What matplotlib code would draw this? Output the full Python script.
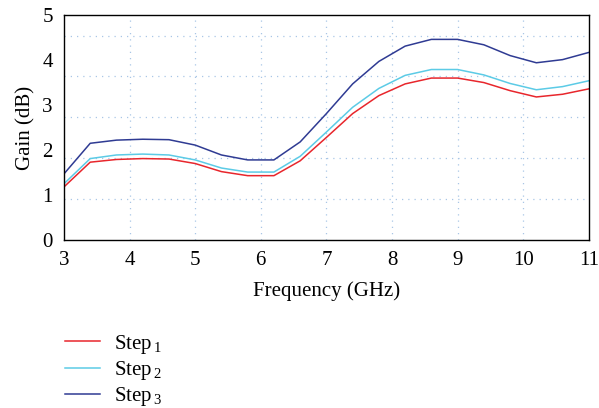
import numpy as np
import matplotlib
matplotlib.use("Agg")
import matplotlib.pyplot as plt

plt.rcParams["font.family"] = ["Liberation Serif", "DejaVu Serif"]
plt.rcParams["mathtext.fontset"] = "custom"
plt.rcParams["mathtext.rm"] = "Liberation Serif"

# Frequenzpunkte in GHz
freq = [3.0, 3.4, 3.8, 4.2, 4.6, 5.0, 5.4, 5.8, 6.2, 6.6, 7.0,
        7.4, 7.8, 8.2, 8.6, 9.0, 9.4, 9.8, 10.2, 10.6, 11.0]

gain_step1 = [1.18, 1.73, 1.79, 1.81, 1.80, 1.70, 1.52, 1.43, 1.43, 1.76, 2.28,
              2.81, 3.21, 3.47, 3.60, 3.60, 3.50, 3.32, 3.18, 3.24, 3.36]
gain_step2 = [1.25, 1.81, 1.89, 1.91, 1.89, 1.78, 1.60, 1.51, 1.51, 1.86, 2.40,
              2.95, 3.37, 3.66, 3.79, 3.79, 3.67, 3.48, 3.34, 3.41, 3.54]
gain_step3 = [1.47, 2.15, 2.22, 2.24, 2.23, 2.11, 1.89, 1.78, 1.78, 2.18, 2.81,
              3.47, 3.97, 4.31, 4.46, 4.46, 4.34, 4.10, 3.94, 4.01, 4.17]

labels = ["Step$_{\\,\\mathregular{1}}$", "Step$_{\\,\\mathregular{2}}$", "Step$_{\\,\\mathregular{3}}$"]
colors = ["#e8262c", "#5ccbe6", "#2f3b93"]

fs = 15

fig = plt.figure(figsize=(5.99, 4.08), dpi=100)
ax = fig.add_axes([0.1068, 0.4118, 0.8762, 0.5512])

for g, lab, c in zip([gain_step1, gain_step2, gain_step3], labels, colors):
    ax.plot(freq, g, color=c, lw=1.1, label=lab)

ax.set_xlim(3, 11)
ax.set_ylim(0, 5)
ax.set_xticks(range(3, 12))
ax.set_yticks(range(0, 6))
ax.tick_params(length=0, labelsize=fs)
ax.tick_params(axis="y", pad=8)
ax.tick_params(axis="x", pad=8)

# Gitter (gepunktet)
for x in range(4, 11):
    ax.axvline(x, color="#a9c6e6", lw=0.9, ls=(0, (1, 4)), zorder=0)
for y in np.arange(1, 6) * 10 / 11:
    ax.axhline(y, color="#a9c6e6", lw=0.9, ls=(0, (1, 4)), zorder=0)

for s in ax.spines.values():
    s.set_linewidth(1.0)

ax.set_xlabel("Frequency (GHz)", fontsize=fs, labelpad=8)
ax.set_ylabel("Gain (dB)", fontsize=fs, labelpad=5)

fig.legend(loc="upper left", bbox_to_anchor=(0.095, 0.205), frameon=False,
           fontsize=fs, handlelength=1.65, labelspacing=0.15, handletextpad=0.7,
           borderaxespad=0)

fig.savefig("out.png", dpi=100)
